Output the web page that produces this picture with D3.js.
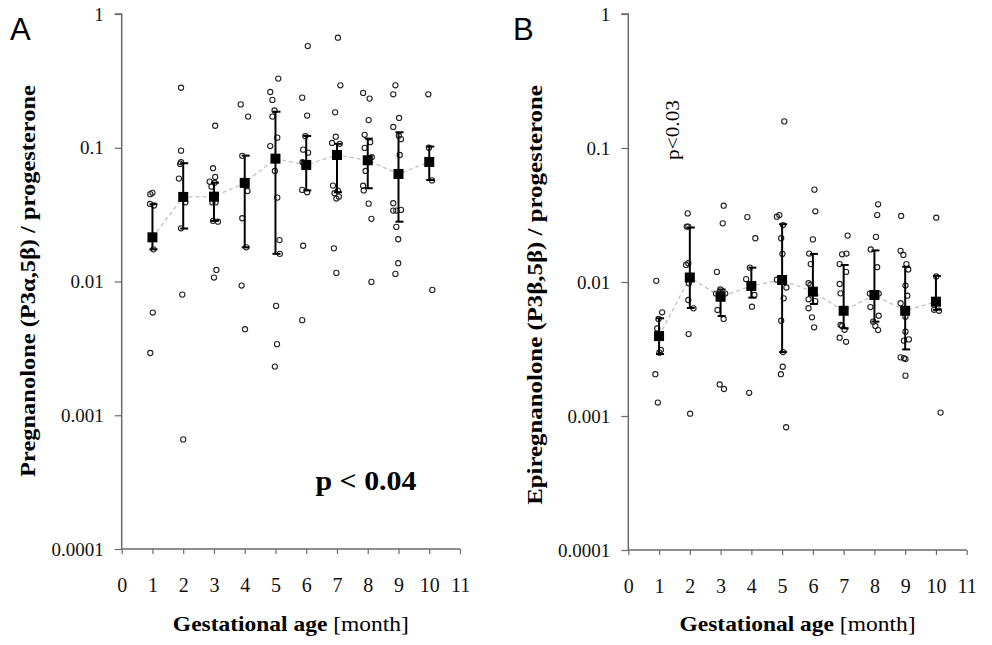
<!DOCTYPE html>
<html><head><meta charset="utf-8">
<script src="https://cdn.jsdelivr.net/npm/d3@7"></script>
<style>body{margin:0;background:#fff}svg{display:block}</style>
</head><body>
<svg id="c" width="992" height="645"></svg>
<script>
// ---------- DATA ----------
const months = [1,2,3,4,5,6,7,8,9,10];
const xTicks = [0,1,2,3,4,5,6,7,8,9,10,11];
const yTicks = [0.0001,0.001,0.01,0.1,1];
const yTickLabels = ["0.0001","0.001","0.01","0.1","1"];

// Panel A: Pregnanolone / progesterone
const meanA  = [0.0214,0.0429,0.0431,0.0546,0.0829,0.0744,0.0883,0.0806,0.0637,0.0783];
const upperA = [0.0378,0.0766,0.0548,0.0873,0.186,0.1226,0.107,0.117,0.1305,0.102];
const lowerA = [0.0174,0.0249,0.0284,0.018,0.0161,0.048,0.0465,0.0498,0.028,0.0574];
const pointsA = [
 [0.93,0.045],[1.0,0.046],[0.92,0.038],[1.05,0.037],[1.03,0.0174],[1.01,0.00586],[0.93,0.00292],
 [1.93,0.281],[1.93,0.0951],[1.93,0.078],[1.9,0.0757],[1.86,0.0588],[2.07,0.0391],[1.93,0.025],[1.97,0.00798],[2.0,0.00066],
 [3.04,0.146],[2.97,0.0703],[3.04,0.0605],[2.86,0.0558],[2.92,0.0512],[3.02,0.0548],[2.95,0.039],[3.05,0.039],[2.97,0.0284],[3.13,0.028],[3.08,0.0122],[3.0,0.0107],
 [3.87,0.211],[4.11,0.171],[3.92,0.087],[4.09,0.0475],[3.92,0.0297],[4.05,0.018],[3.9,0.00933],[4.01,0.0044],
 [5.09,0.329],[4.83,0.261],[4.9,0.228],[4.97,0.19],[4.9,0.171],[5.06,0.119],[4.83,0.103],[4.98,0.0671],[5.06,0.0424],[5.13,0.0204],[5.14,0.0161],[5.02,0.00657],[5.05,0.0034],[4.98,0.00231],
 [6.05,0.576],[5.87,0.237],[6.03,0.174],[5.97,0.122],[6.06,0.0919],[5.9,0.0968],[5.88,0.078],[5.87,0.0484],[6.03,0.0465],[5.9,0.0185],[5.87,0.00514],
 [7.03,0.665],[7.11,0.293],[6.94,0.184],[6.96,0.121],[6.84,0.1086],[7.09,0.107],[6.87,0.0521],[7.03,0.0478],[6.92,0.0457],[6.98,0.0417],[7.06,0.0431],[6.9,0.0177],[6.98,0.0116],
 [7.85,0.257],[8.06,0.233],[8.03,0.161],[7.9,0.125],[8.08,0.11],[7.9,0.0997],[8.13,0.085],[7.93,0.0671],[7.85,0.052],[7.87,0.048],[8.03,0.0382],[8.12,0.0294],[8.12,0.00993],
 [8.9,0.293],[8.83,0.251],[9.02,0.167],[8.83,0.143],[9.01,0.123],[9.08,0.116],[9.04,0.0883],[8.83,0.0385],[8.93,0.0339],[8.83,0.0339],[9.08,0.0343],[8.93,0.0256],[8.99,0.0207],[8.99,0.0137],[8.9,0.0114],
 [9.97,0.251],[9.99,0.1],[10.09,0.057],[10.1,0.00865]
];

// Panel B: Epiregnanolone / progesterone
const meanB  = [0.00395,0.0108,0.00776,0.00934,0.01035,0.00847,0.0061,0.008,0.0061,0.00713];
const upperB = [0.00536,0.0255,0.0088,0.0128,0.027,0.0162,0.0134,0.0172,0.013,0.0111];
const lowerB = [0.0029,0.0064,0.00557,0.00764,0.003,0.00685,0.00451,0.00506,0.00314,0.0062];
const pointsB = [
 [0.91,0.0102],[1.1,0.00594],[0.98,0.0053],[0.94,0.0045],[1.06,0.00311],[1.01,0.00297],[0.88,0.00205],[0.96,0.00126],
 [1.93,0.0325],[1.9,0.0259],[1.95,0.0259],[1.88,0.0134],[1.95,0.0138],[1.97,0.0098],[1.95,0.00734],[2.12,0.00636],[1.96,0.00409],[2.01,0.00104],
 [3.1,0.0371],[3.07,0.0274],[2.88,0.0119],[2.85,0.0082],[3.15,0.0082],[2.99,0.0088],[2.9,0.00618],[3.1,0.0053],[2.97,0.00172],[3.11,0.00159],
 [3.87,0.0305],[4.13,0.0212],[3.95,0.0128],[3.83,0.0105],[4.1,0.008],[4.02,0.00654],[3.93,0.00149],
 [5.07,0.158],[4.83,0.0307],[4.91,0.0316],[5.03,0.0266],[4.97,0.0212],[5.01,0.0162],[4.83,0.0104],[5.14,0.0091],[5.05,0.00755],[4.97,0.00514],[5.03,0.003],[5.02,0.00233],[4.96,0.00205],[5.13,0.000824],
 [6.05,0.0489],[6.08,0.0337],[6.0,0.0208],[5.88,0.0163],[5.93,0.0136],[5.86,0.0098],[5.92,0.0095],[5.86,0.00743],[6.08,0.0072],[5.86,0.00637],[5.97,0.00545],[6.04,0.00459],
 [7.13,0.0222],[6.95,0.0161],[7.09,0.0163],[6.87,0.0136],[7.08,0.0119],[6.87,0.00966],[6.9,0.00823],[6.9,0.00478],[6.95,0.0047],[7.03,0.0044],[6.87,0.00384],[7.08,0.00358],
 [8.12,0.038],[8.09,0.0316],[8.05,0.0217],[7.88,0.0175],[8.09,0.0129],[7.85,0.0082],[8.14,0.0082],[7.87,0.0065],[8.14,0.0056],[7.96,0.00506],[8.03,0.0047],[8.12,0.00438],
 [8.87,0.0311],[8.85,0.0171],[8.94,0.0159],[9.04,0.0136],[9.1,0.0124],[9.01,0.0094],[9.07,0.0079],[8.85,0.00694],[9.01,0.00551],[9.01,0.00426],[8.96,0.00365],[9.12,0.00373],[8.85,0.00274],[8.96,0.0027],[9.01,0.00266],[9.01,0.002],
 [10.01,0.0302],[10.01,0.011],[10.1,0.0061],[9.94,0.0062],[10.15,0.00106]
];

// ---------- DRAW ----------
const svg = d3.select("#c");
const SERIF = "'Liberation Serif','Times New Roman',serif";

// place a text (anchor middle) at (cx,cy) with rotation, stretched to a target length
function stretched(parent, cx, cy, rot, targetLen, build){
  const t = parent.append("text").attr("text-anchor","middle");
  build(t);
  const len = t.node().getComputedTextLength();
  const s = targetLen / len;
  t.attr("transform",`translate(${cx},${cy}) rotate(${rot}) scale(${s},1)`);
  return t;
}

function panel(opt){
  const g = svg.append("g");
  const x = d3.scaleLinear().domain([0,11]).range([opt.x0, opt.x1]);
  const y = d3.scaleLog().domain([0.0001,1]).range([opt.y0, opt.y1]);

  // axes
  const xa = g.append("g").attr("transform",`translate(0,${opt.y0})`)
    .call(d3.axisBottom(x).tickValues(xTicks).tickSize(5).tickPadding(24).tickFormat(d3.format("d")));
  const ya = g.append("g").attr("transform",`translate(${opt.x0},0)`)
    .call(d3.axisLeft(y).tickValues(yTicks).tickSize(7).tickPadding(11).tickFormat((d,i)=>yTickLabels[i]));
  [xa,ya].forEach(a=>{
    a.select(".domain").attr("stroke","#6a6a6a").attr("stroke-width",1.5);
    a.selectAll(".tick line").attr("stroke","#6a6a6a").attr("stroke-width",1.2);
    a.selectAll(".tick text").attr("fill","#111").style("font-family",SERIF);
  });
  xa.selectAll(".tick text").style("font-size","20px").attr("dy","0.71em");
  ya.selectAll(".tick text").style("font-size","19px");
  ya.select(".domain").attr("d",`M-7,${opt.y1}H0V${opt.y0}`);
  xa.select(".domain").attr("d",`M${opt.x0},0H${opt.x1}`);

  // dashed mean line
  g.append("path").datum(months.map((m,i)=>[m,opt.mean[i]]))
    .attr("fill","none").attr("stroke","#bdbdbd").attr("stroke-width",1.2).attr("stroke-dasharray","4,3")
    .attr("d", d3.line().x(d=>x(d[0])).y(d=>y(d[1])));

  // points
  g.append("g").selectAll("circle").data(opt.points).join("circle")
    .attr("cx",d=>x(d[0])).attr("cy",d=>y(d[1])).attr("r",2.6)
    .attr("fill","none").attr("stroke","#222").attr("stroke-width",1.1);

  // error bars
  const eb = g.append("g").attr("stroke","#000").attr("stroke-width",2);
  months.forEach((m,i)=>{
    const cx = x(m);
    eb.append("line").attr("x1",cx).attr("x2",cx).attr("y1",y(opt.upper[i])).attr("y2",y(opt.lower[i]));
    eb.append("line").attr("x1",cx-3).attr("x2",cx+5).attr("y1",y(opt.upper[i])).attr("y2",y(opt.upper[i]));
    eb.append("line").attr("x1",cx-3).attr("x2",cx+5).attr("y1",y(opt.lower[i])).attr("y2",y(opt.lower[i]));
  });

  // mean squares
  g.append("g").selectAll("rect").data(months).join("rect")
    .attr("x",d=>x(d)-5).attr("y",(d,i)=>y(opt.mean[i])-5).attr("width",10).attr("height",10).attr("fill","#000");

  // panel letter
  g.append("text").attr("x",opt.letterX).attr("y",40).text(opt.letter)
    .style("font-family","'Liberation Sans',Arial,sans-serif").style("font-size","31px").attr("fill","#000");

  // y title
  stretched(g, opt.ytX, opt.ytY, -90, opt.ytLen, t=>t
    .style("font-family",SERIF).style("font-size","20px").style("font-weight","bold").text(opt.ytitle));

  // x title
  stretched(g, (opt.x0+opt.x1)/2, 631, 0, 236, t=>{
    t.style("font-family",SERIF).style("font-size","21px");
    t.append("tspan").style("font-weight","bold").text("Gestational age ");
    t.append("tspan").text("[month]");
  });
  return {g,x,y};
}

const A = panel({x0:121.7,x1:460,y0:549,y1:14,mean:meanA,upper:upperA,lower:lowerA,points:pointsA,
  letter:"A",letterX:10,ytitle:"Pregnanolone (P3α,5β) / progesterone",ytX:35,ytY:281,ytLen:392});
stretched(A.g, 366, 490, 0, 101, t=>t
  .style("font-family",SERIF).style("font-size","28px").style("font-weight","bold").text("p < 0.04"));

const B = panel({x0:628.3,x1:966.7,y0:550,y1:14,mean:meanB,upper:upperB,lower:lowerB,points:pointsB,
  letter:"B",letterX:513,ytitle:"Epiregnanolone (P3β,5β) / progesterone",ytX:542,ytY:295,ytLen:420});
stretched(B.g, 679, 130, -90, 60, t=>t
  .style("font-family",SERIF).style("font-size","18px").text("p<0.03"));
</script>
</body></html>
